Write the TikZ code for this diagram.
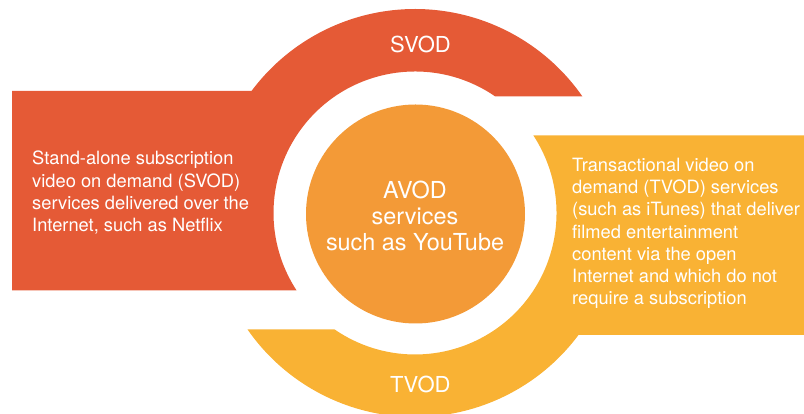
\documentclass[tikz,border=0pt]{standalone}
\usepackage{fontspec}
\setmainfont{TeX Gyre Heros}
\definecolor{svodred}{HTML}{E55A36}
\definecolor{avodorange}{HTML}{F39A37}
\definecolor{tvodyellow}{HTML}{F9B234}

\begin{document}
\begin{tikzpicture}[x=1pt, y=1pt,
        ringlabel/.style={text=white, inner sep=0pt, font=\fontsize{22}{26}\selectfont},
        blurb/.style={text=white, align=left, inner sep=0pt, font=\fontsize{18.3}{22.3}\selectfont}]
    \useasboundingbox (0,0) rectangle (804,414);

    % ring centred at (415,201): inner radius 141.5, outer radius 204
    \begin{scope}[shift={(415,201)}]
        % SVOD: upper half of the ring plus the box on the left
        \fill[svodred] (143.27:204) arc[start angle=143.27, end angle=34.83, radius=204]
            -- (55.42:141.5) arc[start angle=55.42, end angle=213.21, radius=141.5]
            -- (-403,-77.5) -- (-403,122) -- cycle;
        % TVOD: lower half of the ring plus the box on the right
        \fill[tvodyellow] (214.83:204) arc[start angle=214.83, end angle=323.27, radius=204]
            -- (389,-122) -- (389,77.5)
            -- (33.21:141.5) arc[start angle=33.21, end angle=-124.58, radius=141.5] -- cycle;
    \end{scope}

    \node[circle, fill=avodorange, minimum size=219pt, inner sep=0pt] (avod) at (415.5,200) {};
    % multi-line nodes: base is the baseline of the last line
    \node[text=white, align=center, inner sep=0pt, font=\fontsize{23.4}{26}\selectfont, anchor=base] (avodtext) at (415,163.3)
        {AVOD\\services\\such as YouTube};

    \node[ringlabel, anchor=base] (svod) at (420.5,361.3) {SVOD};
    \node[ringlabel, anchor=base] (tvod) at (420.3,21) {TVOD};

    \node[blurb, anchor=base west] (svodtext) at (32,182.2)
        {Stand-alone subscription\\video on demand (SVOD)\\services delivered over the\\Internet, such as Netflix};
    \node[blurb, anchor=base west] (tvodtext) at (572,109)
        {Transactional video on\\demand (TVOD) services\\(such as iTunes) that deliver\\filmed entertainment\\content via the open\\Internet and which do not\\require a subscription};
\end{tikzpicture}
\end{document}
